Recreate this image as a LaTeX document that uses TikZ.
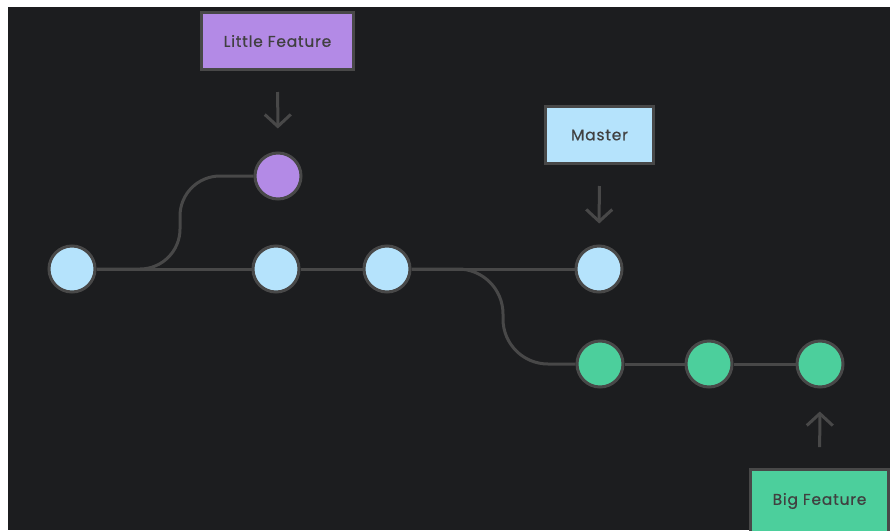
\documentclass[tikz,border=0pt]{standalone}
\usepackage{fontspec}
\setmainfont{Poppins}[LetterSpace=5,FakeBold=0.6]
\usetikzlibrary{arrows.meta,backgrounds}
\definecolor{bg}{HTML}{1C1D1F}
\definecolor{wire}{HTML}{484848}
\definecolor{ink}{HTML}{404040}
\definecolor{mainblue}{HTML}{B5E3FC}
\definecolor{featpurple}{HTML}{B38AE6}
\definecolor{featgreen}{HTML}{4CCF9C}
\tikzset{
  commit/.style={circle, draw=wire, line width=3pt, minimum size=46pt, inner sep=0pt},
  label box/.style={draw=wire, line width=3pt, minimum height=57pt, inner sep=0pt,
    text=ink, font=\fontsize{15.5}{18}\selectfont},
  link/.style={draw=wire, line width=3pt},
  pointer/.style={draw=wire, line width=3pt, -{Straight Barb[length=12pt,width=26pt]}},
}
\begin{document}
\begin{tikzpicture}[x=1pt,y=-1pt]
  \useasboundingbox (0,0) rectangle (891,530);
  \clip (0,0) rectangle (891,530);

  % commits
  \node[commit, fill=mainblue] (c1) at (72,269) {};
  \node[commit, fill=mainblue] (c2) at (276,269) {};
  \node[commit, fill=mainblue] (c3) at (387,269) {};
  \node[commit, fill=mainblue] (c4) at (599,269) {};
  \node[commit, fill=featpurple] (p1) at (278,176) {};
  \node[commit, fill=featgreen] (g1) at (600,364) {};
  \node[commit, fill=featgreen] (g2) at (709,364) {};
  \node[commit, fill=featgreen] (g3) at (820,364) {};

  % bend points of the branch lines
  \coordinate (b1) at (180,0);
  \coordinate (b2) at (503,0);

  % branch labels
  \node[label box, fill=featpurple, minimum width=152pt] (lf) at (277.5,41) {Little Feature};
  \node[label box, fill=mainblue, minimum width=108pt] (ms) at (599.5,135) {Master};
  \node[label box, fill=featgreen, minimum width=138pt, minimum height=63pt] (bf) at (819.5,501) {Big Feature};

  % pointers
  \draw[pointer, shorten <=21pt, shorten >=23pt] (lf) -- (p1);
  \draw[pointer, shorten <=21pt, shorten >=21pt] (ms) -- (c4);
  \draw[pointer, shorten <=21pt, shorten >=23pt] (bf) -- (g3);

  \begin{scope}[on background layer]
    \fill[white] (0,0) rectangle (891,530);
    \fill[bg] (8,7) rectangle (890,530);
    % history lines
    \draw[link] (c1) -- (c2);
    \draw[link] (c2) -- (c3);
    \draw[link] (c3) -- (c4);
    \draw[link] (g1) -- (g2);
    \draw[link] (g2) -- (g3);
    \draw[link, rounded corners=40pt] (c1) -- (b1 |- c1) -- (b1 |- p1) -- (p1);
    \draw[link, rounded corners=45pt] (c3) -- (b2 |- c3) -- (b2 |- g1) -- (g1);
  \end{scope}
\end{tikzpicture}
\end{document}
